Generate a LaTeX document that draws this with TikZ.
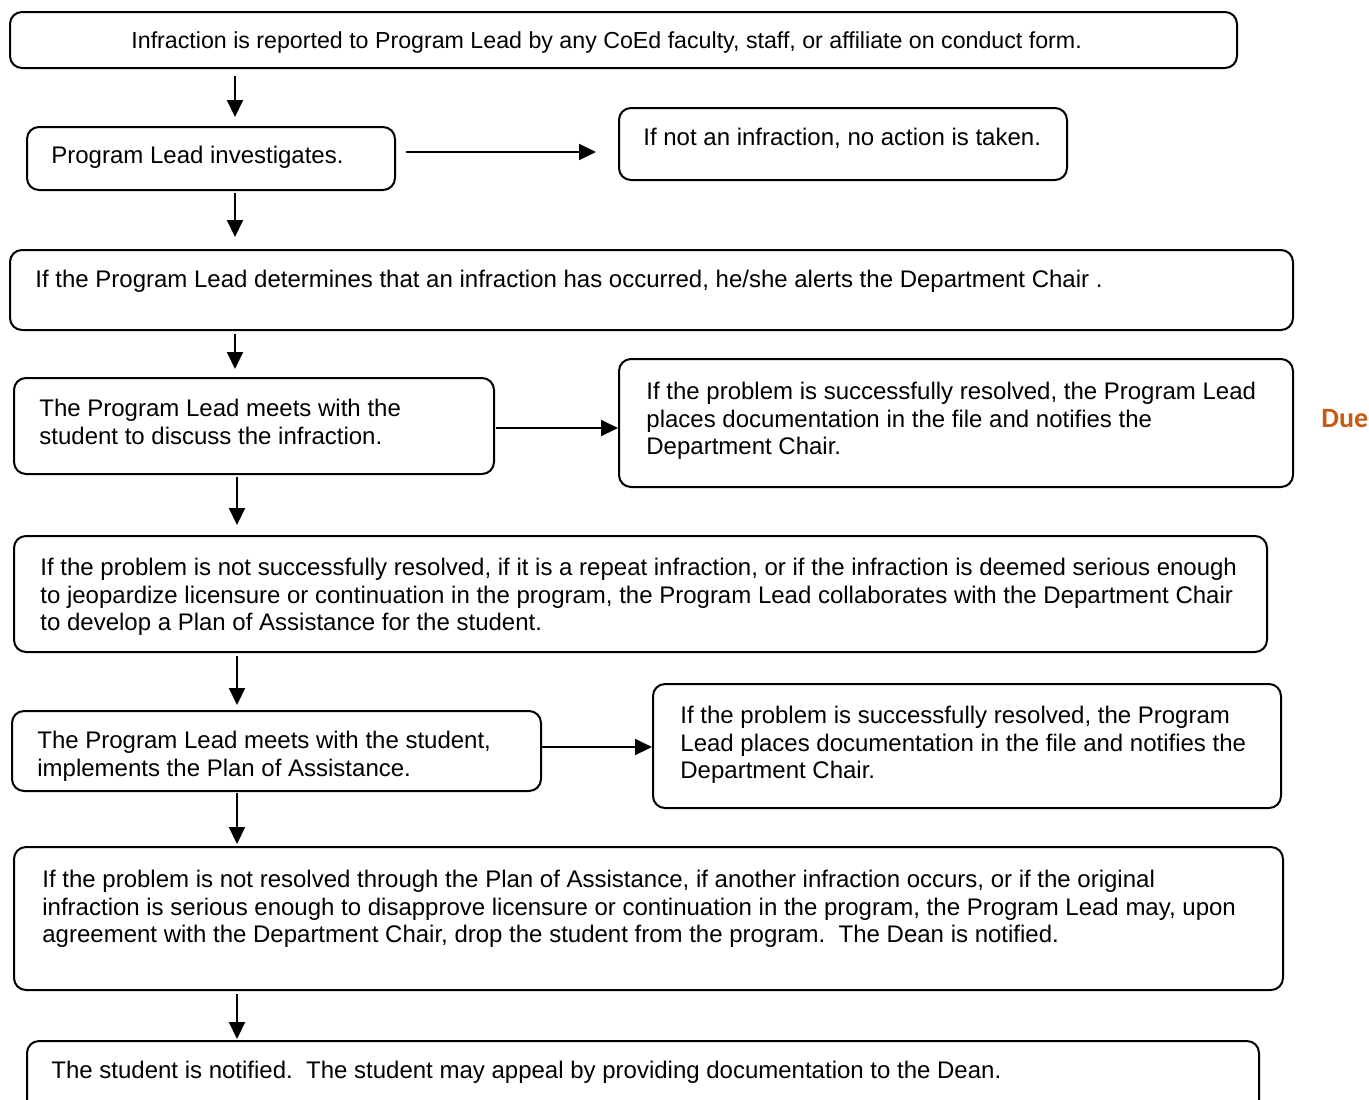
\documentclass[tikz,border=0pt]{standalone}
\usepackage{fontspec}
\setmainfont{Liberation Sans}
\newfontfamily\carl{Carlito}
\usetikzlibrary{arrows.meta,fit}
\definecolor{dueorange}{HTML}{C55A11}
\begin{document}
\begin{tikzpicture}[x=0.5pt,y=-0.5pt,
  box/.style={draw, line width=1pt, rounded corners=6pt, inner sep=0pt},
  txt/.style={anchor=north west, inner sep=0pt, align=left, font=\fontsize{12}{13.75}\selectfont},
  arr/.style={-{Triangle[length=8.5pt,width=8pt]}, line width=1pt}]
\clip (0,0) rectangle (1369,1099);
\useasboundingbox (0,0) rectangle (1369,1099);
% boxes
\node[box, fit={(10,12) (1237,68)}] (b1) {};
\node[box, fit={(27,127) (395,190)}] (b2) {};
\node[box, fit={(619,108) (1067,180)}] (b3) {};
\node[box, fit={(10,250) (1293,330)}] (b4) {};
\node[box, fit={(14,378) (494,474)}] (b5) {};
\node[box, fit={(619,359) (1293,487)}] (b6) {};
\node[box, fit={(14,536) (1267,652)}] (b7) {};
\node[box, fit={(12,711) (541,791)}] (b8) {};
\node[box, fit={(653,684) (1281,808)}] (b9) {};
\node[box, fit={(14,847) (1283,990)}] (b10) {};
\node[box, fit={(27,1041) (1259,1130)}] (b11) {};
% texts
\node[txt, font=\fontsize{11.6}{13.75}\selectfont] (t1) at (131,31.5) {Infraction is reported to Program Lead by any CoEd faculty, staff, or affiliate on conduct form.};
\node[txt] (t2) at (51,146) {Program Lead investigates.};
\node[txt] (t3) at (643,128) {If not an infraction, no action is taken.};
\node[txt] (t4) at (35,270) {If the Program Lead determines that an infraction has occurred, he/she alerts the Department Chair .};
\node[txt] (t5) at (39,399) {The Program Lead meets with the\\student to discuss the infraction.};
\node[txt] (t6) at (646,382) {If the problem is successfully resolved, the Program Lead\\places documentation in the file and notifies the\\Department Chair.};
\node[txt] (t7) at (40,558) {If the problem is not successfully resolved, if it is a repeat infraction, or if the infraction is deemed serious enough\\to jeopardize licensure or continuation in the program, the Program Lead collaborates with the Department Chair\\to develop a Plan of Assistance for the student.};
\node[txt] (t8) at (37,731) {The Program Lead meets with the student,\\implements the Plan of Assistance.};
\node[txt] (t9) at (680,706) {If the problem is successfully resolved, the Program\\Lead places documentation in the file and notifies the\\Department Chair.};
\node[txt] (t10) at (42,870) {If the problem is not resolved through the Plan of Assistance, if another infraction occurs, or if the original\\infraction is serious enough to disapprove licensure or continuation in the program, the Program Lead may, upon\\agreement with the Department Chair, drop the student from the program.\ \ The Dean is notified.};
\node[txt] (t11) at (51,1061) {The student is notified.\ \ The student may appeal by providing documentation to the Dean.};
\node[anchor=west, inner sep=0pt, font=\carl\bfseries\fontsize{14}{16}\selectfont, text=dueorange] (due) at (1321,419) {Due};
% guide coordinates
\coordinate (xA) at (235,0);
\coordinate (xB) at (237,0);
\coordinate (yA) at (0,152);
\coordinate (yB) at (0,428);
\coordinate (yC) at (0,747);
% connectors
\draw[arr, shorten <=3.5pt, shorten >=4.5pt] (b1.south -| xA) -- (b2.north -| xA);
\draw[arr, shorten <=5pt, shorten >=11pt] (b2.east |- yA) -- (b3.west |- yA);
\draw[arr, shorten <=1pt, shorten >=6pt] (b2.south -| xA) -- (b4.north -| xA);
\draw[arr, shorten <=1.5pt, shorten >=4pt] (b4.south -| xA) -- (b5.north -| xA);
\draw[arr, shorten <=0.5pt] (b5.east |- yB) -- (b6.west |- yB);
\draw[arr, shorten <=1pt, shorten >=5pt] (b5.south -| xB) -- (b7.north -| xB);
\draw[arr, shorten <=1.5pt, shorten >=2.5pt] (b7.south -| xB) -- (b8.north -| xB);
\draw[arr] (b8.east |- yC) -- (b9.west |- yC);
\draw[arr, shorten <=0.5pt, shorten >=1pt] (b8.south -| xB) -- (b10.north -| xB);
\draw[arr, shorten <=1.5pt, shorten >=0.5pt] (b10.south -| xB) -- (b11.north -| xB);
\end{tikzpicture}
\end{document}
